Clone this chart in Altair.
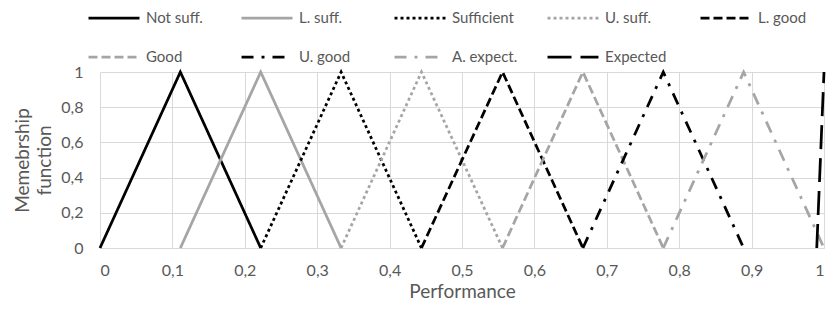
import altair as alt
import pandas as pd

names = ["Not suff.", "L. suff.", "Sufficient", "U. suff.", "L. good",
         "Good", "U. good", "A. expect.", "Expected"]
x_values = [
    [0.0, 0.111, 0.222],
    [0.111, 0.222, 0.333],
    [0.222, 0.333, 0.444],
    [0.333, 0.444, 0.556],
    [0.444, 0.556, 0.667],
    [0.556, 0.667, 0.778],
    [0.667, 0.778, 0.889],
    [0.778, 0.889, 1.0],
    [0.99, 1.0],
]
y_values = [
    [0, 1, 0],
    [0, 1, 0],
    [0, 1, 0],
    [0, 1, 0],
    [0, 1, 0],
    [0, 1, 0],
    [0, 1, 0],
    [0, 1, 0],
    [0, 1],
]
colors = ["#000000", "#a5a5a5", "#000000", "#a5a5a5", "#000000",
          "#a5a5a5", "#000000", "#a5a5a5", "#000000"]
dashes = [[1, 0], [1, 0], [3, 3], [3, 3], [9, 4], [9, 4],
          [12, 8, 3, 8], [12, 8, 3, 8], [24, 9]]

rows = []
for i, name in enumerate(names):
    for j, (xv, yv) in enumerate(zip(x_values[i], y_values[i])):
        rows.append({"series": name, "x": xv, "y": yv, "order": j})
df = pd.DataFrame(rows)

FONT = "Lato"
GREY = "#595959"

chart = alt.Chart(df).mark_line(strokeWidth=2.75, strokeCap="butt").encode(
    x=alt.X("x:Q",
            scale=alt.Scale(domain=[0, 1], nice=False),
            axis=alt.Axis(title="Performance", values=[i / 10 for i in range(11)],
                          format=".1~f", labelExpr="replace(datum.label, '.', ',')",
                          grid=True, gridColor="#d9d9d9", ticks=False,
                          domainColor="#d9d9d9", labelPadding=14,
                          titlePadding=4)),
    y=alt.Y("y:Q",
            scale=alt.Scale(domain=[0, 1], nice=False),
            axis=alt.Axis(title=["Memebrship", "function"],
                          values=[0, 0.2, 0.4, 0.6, 0.8, 1],
                          format=".1~f", labelExpr="replace(datum.label, '.', ',')",
                          grid=True, gridColor="#d9d9d9", ticks=False,
                          domain=False, labelPadding=17, titlePadding=6,
                          titleLineHeight=22)),
    color=alt.Color("series:N",
                    scale=alt.Scale(domain=names, range=colors),
                    sort=names,
                    legend=alt.Legend(title=None, orient="none",
                                      legendX=-13, legendY=-64,
                                      columns=5, direction="horizontal",
                                      symbolType="stroke", symbolSize=2600,
                                      symbolStrokeWidth=2.75,
                                      clipHeight=20,
                                      labelOffset=5, columnPadding=28,
                                      rowPadding=19, gridAlign="all",
                                      labelFont=FONT, labelFontSize=15,
                                      labelColor=GREY)),
    strokeDash=alt.StrokeDash("series:N",
                              scale=alt.Scale(domain=names, range=dashes),
                              sort=names, legend=None),
    order="order:Q",
).properties(
    width=724, height=176,
    autosize=alt.AutoSizeParams(type="none"),
    padding={"left": 92, "top": 64, "right": 6, "bottom": 55},
).configure_axis(
    labelFont=FONT, labelFontSize=16, labelColor=GREY,
    titleFont=FONT, titleFontSize=19, titleColor=GREY, titleFontWeight="normal",
).configure_view(stroke=None)

chart.save("out.html", embed_options={"renderer": "svg", "actions": False})
